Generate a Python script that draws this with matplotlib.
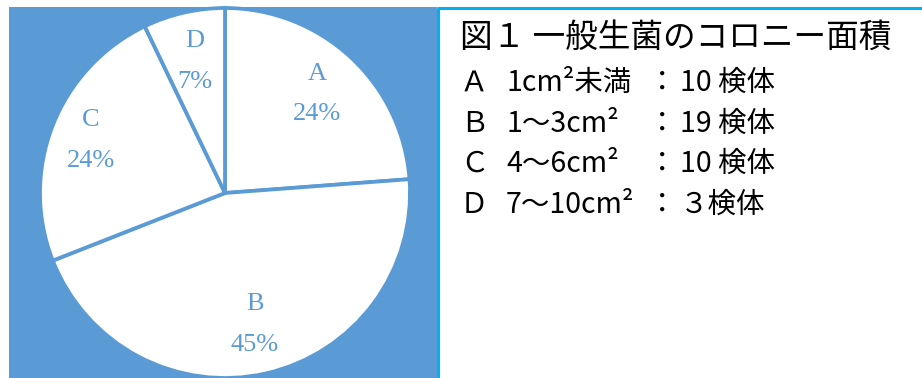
import matplotlib
matplotlib.use("Agg")
import matplotlib.pyplot as plt
import numpy as np
from matplotlib.patches import Rectangle

plt.rcParams['font.family'] = ['Noto Sans CJK JP', 'DejaVu Sans']

# Colony area groups and specimen counts
categories = ["A", "B", "C", "D"]
counts = [10, 19, 10, 3]
legend_letters = ["Ａ", "Ｂ", "Ｃ", "Ｄ"]
legend_ranges = ["1cm²未満", "1〜3cm²", "4〜6cm²", "7〜10cm²"]
legend_counts = ["10 検体", "19 検体", "10 検体", "３検体"]
title = "図１ 一般生菌のコロニー面積"

BLUE = "#5B9BD5"
CYAN = "#00B0F0"

W, H = 922, 378
fig = plt.figure(figsize=(W / 100, H / 100), dpi=100)
fig.patch.set_facecolor("white")


def fx(px):
    return px / W


def fy(py):
    return 1 - py / H


# background layer: blue chart area and frame lines
bg = fig.add_axes([0, 0, 1, 1], zorder=0)
bg.set_xlim(0, W)
bg.set_ylim(H, 0)
bg.axis("off")
bg.add_patch(Rectangle((9, 7), 428, H - 7, facecolor=BLUE, edgecolor="none"))
bg.plot([437, W], [8, 8], color=CYAN, lw=2.2, solid_capstyle="butt")
bg.plot([438, 438], [8, H], color=CYAN, lw=2.2, solid_capstyle="butt")

# pie
cx, cy, r = 225, 193, 185
ax = fig.add_axes([fx(cx - r), fy(cy + r), 2 * r / W, 2 * r / H], zorder=1)
ax.set_facecolor("none")
total = sum(counts)

wedges = ax.pie(counts, startangle=90, counterclock=False,
                colors=["white"] * len(counts),
                wedgeprops=dict(edgecolor=BLUE, linewidth=2.7))[0]
for i, w in enumerate(wedges):
    w.set_clip_on(False)
    ang = np.deg2rad((w.theta1 + w.theta2) / 2)
    d = 0.78 if categories[i] == "C" else 0.73
    ax.text(d * np.cos(ang), d * np.sin(ang),
            f"{categories[i]}\n{100 * counts[i] / total:.0f}%",
            ha="center", va="center", color=BLUE, fontsize=19,
            family="Liberation Serif", linespacing=2.1)
ax.set_xlim(-1, 1)
ax.set_ylim(-1, 1)
ax.set_aspect("equal")
ax.axis("off")

# legend text
fig.text(fx(460), fy(38), title, fontsize=23.5, va="center", ha="left", color="black")
rows_y = [83, 124, 164, 205]
for y, let, rng, cnt in zip(rows_y, legend_letters, legend_ranges, legend_counts):
    fig.text(fx(460), fy(y), let, fontsize=20.5, va="center", ha="left", color="black")
    fig.text(fx(506), fy(y), rng, fontsize=20.5, va="center", ha="left", color="black")
    fig.text(fx(662), fy(y), "：", fontsize=20.5, va="center", ha="center", color="black")
    fig.text(fx(680), fy(y), cnt, fontsize=20.5, va="center", ha="left", color="black")

fig.savefig("out.png", dpi=100, facecolor="white")
